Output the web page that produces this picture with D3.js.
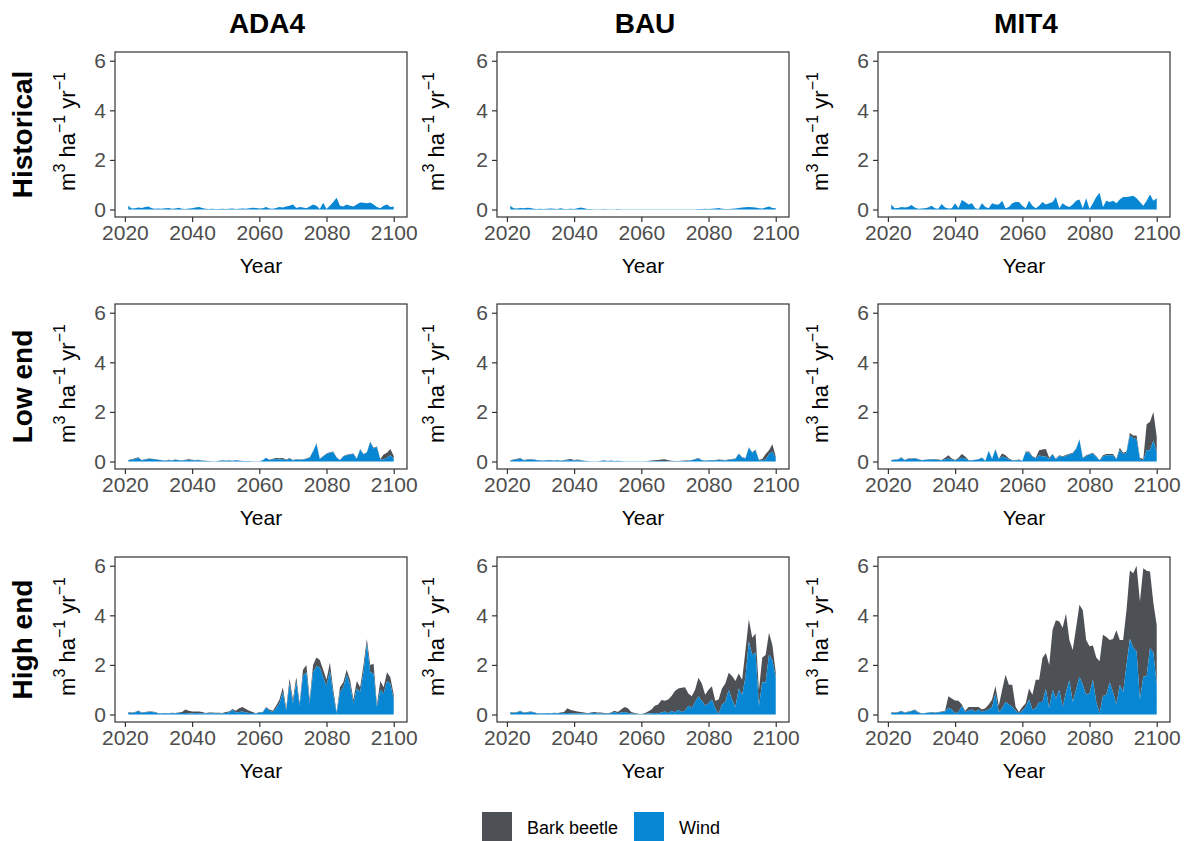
<!DOCTYPE html>
<html>
<head>
<meta charset="utf-8">
<script src="https://cdn.jsdelivr.net/npm/d3@7"></script>
<style>
  body { margin: 0; background: #fff; }
  text { font-family: "Liberation Sans", Arial, sans-serif; }
</style>
</head>
<body>
<svg id="chart" width="1192" height="841"></svg>
<script>
// Facet labels
const scenarios = ['ADA4', 'BAU', 'MIT4'];
const climates = ['Historical', 'Low end', 'High end'];
const seriesNames = ['Bark beetle', 'Wind'];
const xTicks = [2020, 2040, 2060, 2080, 2100];
const yTicks = [0, 2, 4, 6];

// Simulation years
const years = d3.range(2021, 2101);

// Historical climate: only wind damage visible
const ada4HistWind = [
  0.15,0.04,0.05,0.08,0.06,0.1,0.12,0.05,0.03,0.04,
  0.03,0.05,0.06,0.03,0.04,0.07,0.03,0.02,0.04,0.05,
  0.08,0.1,0.06,0.03,0.02,0.03,0.02,0.02,0.03,0.02,
  0.03,0.04,0.02,0.03,0.04,0.03,0.05,0.07,0.06,0.04,
  0.05,0.1,0.04,0.03,0.06,0.1,0.08,0.12,0.15,0.2,
  0.06,0.1,0.08,0.05,0.12,0.2,0.15,0.02,0.27,0.02,
  0.15,0.3,0.47,0.15,0.12,0.2,0.15,0.12,0.2,0.28,
  0.27,0.25,0.28,0.2,0.1,0.05,0.15,0.2,0.1,0.12];
const bauHistWind = [
  0.15,0.05,0.04,0.06,0.05,0.07,0.06,0.03,0.02,0.03,
  0.02,0.03,0.04,0.03,0.02,0.05,0.02,0.02,0.03,0.02,
  0.05,0.08,0.05,0.02,0.02,0.01,0.01,0.01,0.02,0.01,
  0.01,0.01,0.02,0.01,0.01,0.01,0.01,0.01,0.01,0.01,
  0.01,0.01,0.01,0.01,0.01,0.01,0.01,0.01,0.01,0.01,
  0.01,0.01,0.01,0.01,0.01,0.01,0.02,0.02,0.03,0.02,
  0.03,0.04,0.06,0.03,0.02,0.02,0.03,0.04,0.06,0.08,
  0.09,0.1,0.09,0.08,0.05,0.04,0.08,0.12,0.06,0.05];
const mit4HistWind = [
  0.2,0.05,0.06,0.1,0.08,0.1,0.18,0.08,0.03,0.04,
  0.05,0.08,0.15,0.05,0.03,0.22,0.08,0.04,0.05,0.25,
  0.05,0.38,0.3,0.2,0.25,0.05,0.02,0.25,0.1,0.05,
  0.25,0.2,0.2,0.35,0.05,0.1,0.25,0.3,0.3,0.15,
  0.05,0.35,0.15,0.05,0.15,0.3,0.2,0.25,0.3,0.5,
  0.05,0.25,0.15,0.1,0.2,0.35,0.4,0.05,0.45,0.02,
  0.25,0.5,0.68,0.1,0.35,0.3,0.35,0.25,0.4,0.5,
  0.5,0.52,0.55,0.45,0.3,0.15,0.35,0.6,0.35,0.45];

// Low end climate: wind, and wind + bark beetle (top of stack)
const ada4LowWind = [
  0.05,0.07,0.1,0.15,0.05,0.07,0.1,0.1,0.08,0.06,
  0.05,0.03,0.05,0.04,0.06,0.05,0.04,0.05,0.06,0.05,
  0.04,0.05,0.03,0.02,0.02,0.01,0.01,0.02,0.04,0.03,
  0.04,0.02,0.05,0.03,0.02,0.02,0.02,0.01,0.01,0.01,
  0.05,0.15,0.05,0.08,0.1,0.08,0.1,0.05,0.12,0.04,
  0.08,0.06,0.08,0.1,0.15,0.4,0.72,0.1,0.2,0.3,
  0.35,0.38,0.15,0.05,0.2,0.25,0.28,0.3,0.1,0.48,
  0.28,0.35,0.78,0.52,0.58,0.08,0.08,0.15,0.25,0.12];
const ada4LowTotal = [
  0.06,0.09,0.13,0.17,0.06,0.09,0.12,0.11,0.1,0.07,
  0.06,0.04,0.07,0.05,0.08,0.06,0.05,0.07,0.09,0.07,
  0.06,0.07,0.04,0.03,0.02,0.01,0.01,0.03,0.05,0.04,
  0.05,0.03,0.06,0.04,0.02,0.02,0.02,0.01,0.01,0.01,
  0.05,0.15,0.07,0.11,0.14,0.13,0.14,0.08,0.14,0.06,
  0.09,0.08,0.09,0.12,0.17,0.42,0.74,0.11,0.22,0.32,
  0.37,0.4,0.17,0.06,0.22,0.27,0.3,0.32,0.12,0.5,
  0.3,0.37,0.81,0.55,0.61,0.1,0.28,0.35,0.5,0.22];
const bauLowWind = [
  0.04,0.06,0.08,0.12,0.05,0.06,0.08,0.07,0.05,0.04,
  0.03,0.05,0.04,0.03,0.05,0.03,0.04,0.05,0.06,0.04,
  0.05,0.04,0.02,0.02,0.01,0.01,0.01,0.02,0.04,0.02,
  0.04,0.02,0.03,0.02,0.01,0.01,0.01,0.01,0.01,0.01,
  0.01,0.01,0.02,0.02,0.02,0.02,0.02,0.01,0.01,0.01,
  0.01,0.02,0.02,0.03,0.05,0.08,0.12,0.05,0.03,0.04,
  0.05,0.04,0.06,0.05,0.04,0.06,0.08,0.1,0.3,0.15,
  0.12,0.55,0.35,0.45,0.05,0.05,0.08,0.3,0.4,0.15];
const bauLowTotal = [
  0.05,0.08,0.11,0.14,0.06,0.08,0.1,0.08,0.06,0.05,
  0.04,0.06,0.06,0.04,0.06,0.04,0.06,0.08,0.1,0.06,
  0.08,0.06,0.03,0.02,0.01,0.01,0.01,0.03,0.05,0.02,
  0.04,0.02,0.03,0.02,0.01,0.01,0.01,0.01,0.01,0.01,
  0.01,0.02,0.04,0.05,0.06,0.08,0.09,0.05,0.03,0.02,
  0.02,0.03,0.04,0.05,0.06,0.1,0.14,0.06,0.04,0.05,
  0.06,0.06,0.08,0.07,0.06,0.08,0.1,0.12,0.32,0.17,
  0.14,0.57,0.37,0.48,0.07,0.1,0.3,0.45,0.7,0.2];
const mit4LowWind = [
  0.05,0.07,0.08,0.15,0.05,0.1,0.1,0.12,0.08,0.05,
  0.06,0.08,0.07,0.08,0.06,0.05,0.08,0.12,0.08,0.04,
  0.1,0.15,0.12,0.04,0.05,0.06,0.08,0.15,0.02,0.42,
  0.1,0.48,0.1,0.2,0.15,0.08,0.04,0.04,0.06,0.02,
  0.38,0.35,0.18,0.12,0.25,0.2,0.2,0.1,0.28,0.08,
  0.22,0.18,0.22,0.28,0.32,0.5,0.88,0.12,0.22,0.28,
  0.32,0.18,0.04,0.2,0.25,0.25,0.25,0.08,0.45,0.3,
  0.35,1.05,0.95,0.9,0.08,0.05,0.45,0.45,0.85,0.35];
const mit4LowTotal = [
  0.06,0.08,0.09,0.17,0.06,0.12,0.12,0.14,0.1,0.06,
  0.07,0.09,0.09,0.1,0.08,0.06,0.15,0.25,0.12,0.06,
  0.15,0.3,0.2,0.06,0.06,0.07,0.1,0.16,0.03,0.43,
  0.11,0.5,0.12,0.32,0.25,0.12,0.06,0.06,0.08,0.03,
  0.4,0.4,0.21,0.15,0.45,0.48,0.5,0.15,0.3,0.11,
  0.25,0.21,0.26,0.31,0.35,0.52,0.9,0.15,0.25,0.3,
  0.35,0.21,0.06,0.25,0.3,0.3,0.3,0.11,0.55,0.35,
  0.4,1.15,1.05,1.05,0.15,0.1,1.5,1.6,2.0,1.0];

// High end climate
const ada4HighWind = [
  0.08,0.06,0.08,0.14,0.06,0.08,0.1,0.1,0.08,0.04,
  0.04,0.05,0.04,0.05,0.05,0.06,0.06,0.06,0.05,0.04,
  0.06,0.05,0.05,0.04,0.05,0.05,0.04,0.04,0.04,0.06,
  0.08,0.18,0.08,0.1,0.12,0.08,0.06,0.06,0.03,0.08,
  0.08,0.28,0.15,0.1,0.25,0.45,0.9,0.15,1.25,0.45,
  1.3,0.35,1.55,1.7,0.45,1.7,1.95,1.9,1.5,1.15,
  1.75,0.8,0.05,0.9,1.1,1.6,1.2,0.45,1.05,0.9,
  1.7,2.85,1.7,1.65,0.3,1.0,0.85,1.35,1.25,0.6];
const ada4HighTotal = [
  0.1,0.08,0.1,0.16,0.08,0.1,0.12,0.12,0.1,0.05,
  0.05,0.06,0.05,0.07,0.06,0.08,0.1,0.2,0.15,0.12,
  0.12,0.12,0.1,0.06,0.08,0.08,0.07,0.07,0.06,0.1,
  0.12,0.22,0.15,0.25,0.3,0.22,0.15,0.1,0.05,0.1,
  0.1,0.3,0.2,0.15,0.35,0.6,1.1,0.25,1.45,0.6,
  1.5,0.45,1.8,2.0,0.6,2.0,2.3,2.2,1.8,1.4,
  2.1,1.0,0.1,1.1,1.3,1.8,1.4,0.6,1.35,1.1,
  2.0,3.05,2.0,2.05,0.4,1.35,1.1,1.7,1.5,0.8];
const bauHighWind = [
  0.08,0.06,0.08,0.13,0.06,0.08,0.1,0.08,0.04,0.04,
  0.04,0.05,0.04,0.05,0.05,0.06,0.05,0.06,0.05,0.04,
  0.05,0.04,0.04,0.03,0.05,0.06,0.04,0.04,0.03,0.03,
  0.05,0.1,0.05,0.08,0.1,0.06,0.04,0.03,0.01,0.01,
  0.02,0.04,0.05,0.06,0.05,0.08,0.12,0.05,0.15,0.08,
  0.18,0.1,0.15,0.35,0.25,0.5,0.74,0.55,0.35,0.45,
  0.6,0.25,0.02,0.4,0.5,1.0,0.6,0.3,1.05,0.8,
  1.5,2.95,2.4,2.5,0.35,1.3,1.3,2.42,2.2,1.5];
const bauHighTotal = [
  0.1,0.08,0.1,0.15,0.08,0.1,0.12,0.1,0.05,0.05,
  0.05,0.06,0.05,0.07,0.06,0.08,0.1,0.25,0.18,0.15,
  0.12,0.1,0.08,0.05,0.08,0.1,0.08,0.08,0.06,0.05,
  0.08,0.15,0.1,0.2,0.3,0.25,0.1,0.06,0.03,0.02,
  0.05,0.12,0.2,0.35,0.4,0.58,0.55,0.6,0.75,0.95,
  1.05,1.08,1.1,0.85,0.74,1.0,1.48,1.25,0.8,1.0,
  1.14,0.55,0.6,1.05,1.25,1.68,1.55,1.35,1.65,1.4,
  2.6,3.84,3.1,3.27,0.98,2.3,2.4,3.3,2.8,1.7];
const mit4HighWind = [
  0.08,0.06,0.08,0.13,0.06,0.1,0.13,0.17,0.08,0.04,
  0.05,0.07,0.08,0.06,0.08,0.1,0.12,0.27,0.2,0.05,
  0.1,0.34,0.1,0.15,0.2,0.1,0.2,0.1,0.15,0.2,
  0.3,0.85,0.1,0.25,0.5,0.4,0.3,0.15,0.05,0.15,
  0.3,0.6,0.2,0.25,0.5,0.5,1.03,0.25,1.0,0.65,
  1.0,0.3,0.9,1.38,0.5,1.0,1.52,1.2,0.8,0.85,
  1.4,0.5,0.05,0.75,0.8,1.3,0.9,0.4,1.2,0.9,
  2.0,3.06,2.7,2.55,0.6,1.52,1.55,2.68,2.5,1.2];
const mit4HighTotal = [
  0.1,0.08,0.1,0.15,0.08,0.12,0.15,0.2,0.1,0.05,
  0.06,0.08,0.1,0.08,0.1,0.12,0.15,0.74,0.65,0.56,
  0.55,0.4,0.15,0.3,0.3,0.3,0.3,0.2,0.25,0.4,
  0.6,1.15,0.35,1.0,1.6,1.2,1.2,0.3,0.1,0.3,
  0.45,1.05,0.8,1.4,1.4,2.28,2.48,2.0,3.42,3.8,
  3.75,3.5,4.07,3.0,2.6,3.5,4.43,4.2,3.0,2.75,
  2.78,2.3,2.15,3.22,3.13,3.0,3.05,3.4,3.0,3.0,
  4.2,5.81,5.7,6.0,4.56,5.9,5.8,5.77,4.5,3.6];

// Look-up table: climate row x scenario column -> [wind, wind + bark beetle]
const panels = {
  'Historical': { ADA4: [ada4HistWind, ada4HistWind], BAU: [bauHistWind, bauHistWind], MIT4: [mit4HistWind, mit4HistWind] },
  'Low end':    { ADA4: [ada4LowWind, ada4LowTotal], BAU: [bauLowWind, bauLowTotal], MIT4: [mit4LowWind, mit4LowTotal] },
  'High end':   { ADA4: [ada4HighWind, ada4HighTotal], BAU: [bauHighWind, bauHighTotal], MIT4: [mit4HighWind, mit4HighTotal] }
};

const colors = { 'Bark beetle': '#4d5156', 'Wind': '#0786d3' };

// Layout
const panelW = 292, panelH = 165;
const colLeft = [115, 497, 878];
const rowTop = [52, 304, 557];
const yTitleX = [75, 444, 828];

const svg = d3.select('#chart');

// shared scales (ggplot-like 5% expansion)
const xScale = d3.scaleLinear()
  .domain([2021 - 3.95, 2100 + 3.95])
  .range([0, panelW]);
const yMax = 6.05;
const yScale = d3.scaleLinear()
  .domain([-yMax * 0.05, yMax * 1.05])
  .range([panelH, 0]);

const windArea = d3.area()
  .x(d => xScale(d.year))
  .y0(yScale(0))
  .y1(d => yScale(d.wind));
const beetleArea = d3.area()
  .x(d => xScale(d.year))
  .y0(d => yScale(d.wind))
  .y1(d => yScale(d.total));

// column titles
scenarios.forEach((s, ci) => {
  svg.append('text')
    .attr('x', colLeft[ci] + panelW / 2 + (ci === 0 ? 6 : 2))
    .attr('y', 33)
    .attr('text-anchor', 'middle')
    .style('font-size', '28px')
    .style('font-weight', 'bold')
    .text(s);
});

climates.forEach((clim, ri) => {
  // row label
  svg.append('text')
    .attr('transform', `translate(32,${rowTop[ri] + panelH / 2}) rotate(-90)`)
    .attr('text-anchor', 'middle')
    .style('font-size', '28px')
    .style('font-weight', 'bold')
    .text(clim);

  scenarios.forEach((scen, ci) => {
    const [wind, total] = panels[clim][scen];
    const rows = years.map((yr, i) => ({ year: yr, wind: wind[i], total: total[i] }));

    const g = svg.append('g')
      .attr('transform', `translate(${colLeft[ci]},${rowTop[ri]})`);

    const clipId = `clip-${ri}-${ci}`;
    g.append('clipPath').attr('id', clipId)
      .append('rect').attr('width', panelW).attr('height', panelH);

    const plot = g.append('g').attr('clip-path', `url(#${clipId})`);
    plot.append('path')
      .datum(rows)
      .attr('d', beetleArea)
      .attr('fill', colors['Bark beetle']);
    plot.append('path')
      .datum(rows)
      .attr('d', windArea)
      .attr('fill', colors['Wind']);

    // axes
    const yAxis = g.append('g')
      .call(d3.axisLeft(yScale).tickValues(yTicks).tickFormat(d3.format('d')).tickSize(5).tickPadding(4));
    const xAxis = g.append('g')
      .attr('transform', `translate(0,${panelH})`)
      .call(d3.axisBottom(xScale).tickValues(xTicks).tickFormat(d3.format('d')).tickSize(5).tickPadding(3));
    [yAxis, xAxis].forEach(ax => {
      ax.select('.domain').remove();
      ax.selectAll('line').attr('stroke', '#333').attr('stroke-width', 1.2);
      ax.selectAll('text')
        .attr('fill', '#4d4d4d')
        .style('font-size', '21px')
        .style('font-family', '"Liberation Sans", Arial, sans-serif');
    });

    // panel border
    g.append('rect')
      .attr('width', panelW).attr('height', panelH)
      .attr('fill', 'none')
      .attr('stroke', '#333')
      .attr('stroke-width', 1.2);

    // x title
    g.append('text')
      .attr('x', panelW / 2)
      .attr('y', panelH + 56)
      .attr('text-anchor', 'middle')
      .style('font-size', '21px')
      .text('Year');

    // y title: m3 ha-1 yr-1
    const yt = svg.append('text')
      .attr('transform', `translate(${yTitleX[ci]},${rowTop[ri] + panelH / 2 - 3}) rotate(-90)`)
      .attr('text-anchor', 'middle')
      .style('font-size', '22px');
    yt.append('tspan').text('m');
    yt.append('tspan').attr('dy', -10).style('font-size', '16px').text('3');
    yt.append('tspan').attr('dy', 10).text(' ha');
    yt.append('tspan').attr('dy', -10).style('font-size', '16px').text('\u22121');
    yt.append('tspan').attr('dy', 10).text(' yr');
    yt.append('tspan').attr('dy', -10).style('font-size', '16px').text('\u22121');
  });
});

// legend
const legendX = [482, 634];
seriesNames.forEach((name, i) => {
  svg.append('rect')
    .attr('x', legendX[i]).attr('y', 812)
    .attr('width', 30).attr('height', 30)
    .attr('fill', colors[name]);
  svg.append('text')
    .attr('x', legendX[i] + 45)
    .attr('y', 834)
    .style('font-size', '18px')
    .text(name);
});
</script>
</body>
</html>
